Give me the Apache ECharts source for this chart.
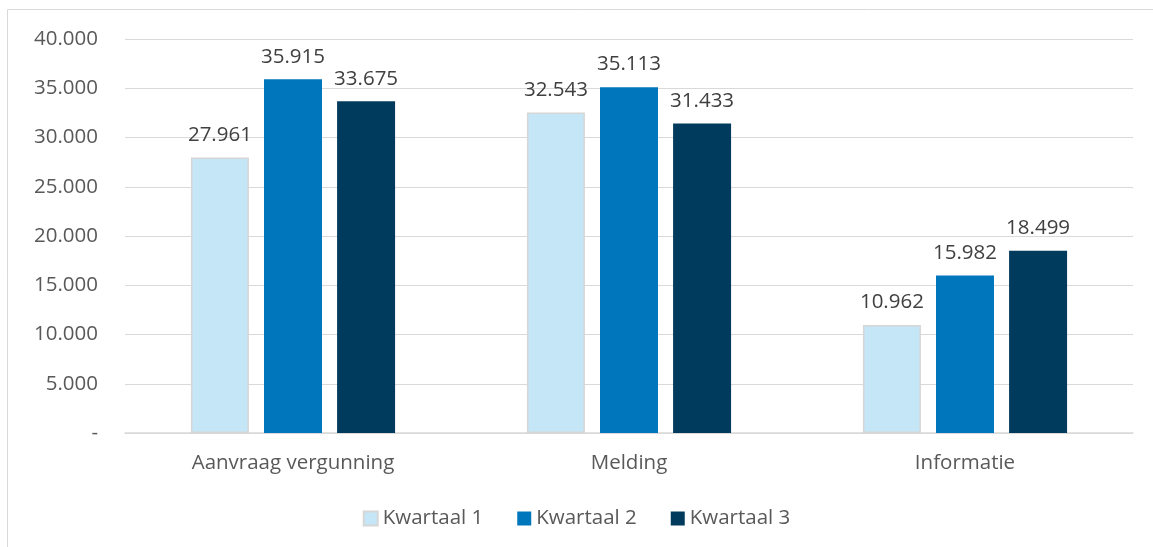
<!DOCTYPE html>
<html><head><meta charset="utf-8">
<script src="https://cdn.jsdelivr.net/npm/echarts@6/dist/echarts.min.js"></script>
<style>html,body{margin:0;padding:0;background:#fff}#c{width:1153px;height:547px}</style>
</head><body><div id="c"></div>
<script>
const categories = ['Aanvraag vergunning', 'Melding', 'Informatie'];
const seriesNames = ['Kwartaal 1', 'Kwartaal 2', 'Kwartaal 3'];
const q1 = [27961, 32543, 10962];
const q2 = [35915, 35113, 15982];
const q3 = [33675, 31433, 18499];
const colors = ['#C5E6F6', '#0077BD', '#003B5E'];

const fmt = v => v === 0 ? '-' : v.toString().replace(/\B(?=(\d{3})+(?!\d))/g, '.');
const font = '"Open Sans", "Liberation Sans", sans-serif';
const chart = echarts.init(document.getElementById('c'));
const mk = (name, data, i) => ({
  name, type: 'bar', data, barWidth: 58, barGap: '26%',
  itemStyle: { color: colors[i], borderColor: i === 0 ? '#D6D6D6' : colors[i], borderWidth: i === 0 ? 1.5 : 0 },
  label: { show: true, position: 'top', distance: 12, formatter: p => fmt(p.value), color: '#404040', fontSize: 20.5, fontFamily: font }
});
chart.setOption({
  animation: false,
  graphic: [{ type: 'rect', shape: { x: 7.5, y: 9.5, width: 1300, height: 700 }, style: { fill: 'none', stroke: '#D9D9D9', lineWidth: 1 }, silent: true }],
  grid: { left: 125, right: 20, top: 39, bottom: 114, containLabel: false },
  legend: {
    data: seriesNames, bottom: 13, left: 'center', itemWidth: 14, itemHeight: 14, itemGap: 34,
    textStyle: { color: '#595959', fontSize: 20.5, fontFamily: font }, icon: 'rect'
  },
  xAxis: {
    type: 'category', data: categories,
    axisLine: { lineStyle: { color: '#D9D9D9', width: 1.5 } }, axisTick: { show: false },
    axisLabel: { color: '#595959', fontSize: 20.5, margin: 20, fontFamily: font }
  },
  yAxis: {
    type: 'value', min: 0, max: 40000, interval: 5000,
    axisLine: { show: false }, axisTick: { show: false },
    splitLine: { lineStyle: { color: '#D9D9D9', width: 1 } },
    axisLabel: { color: '#595959', fontSize: 20.5, margin: 27, fontFamily: font, formatter: fmt }
  },
  series: [mk(seriesNames[0], q1, 0), mk(seriesNames[1], q2, 1), mk(seriesNames[2], q3, 2)]
});
</script></body></html>
